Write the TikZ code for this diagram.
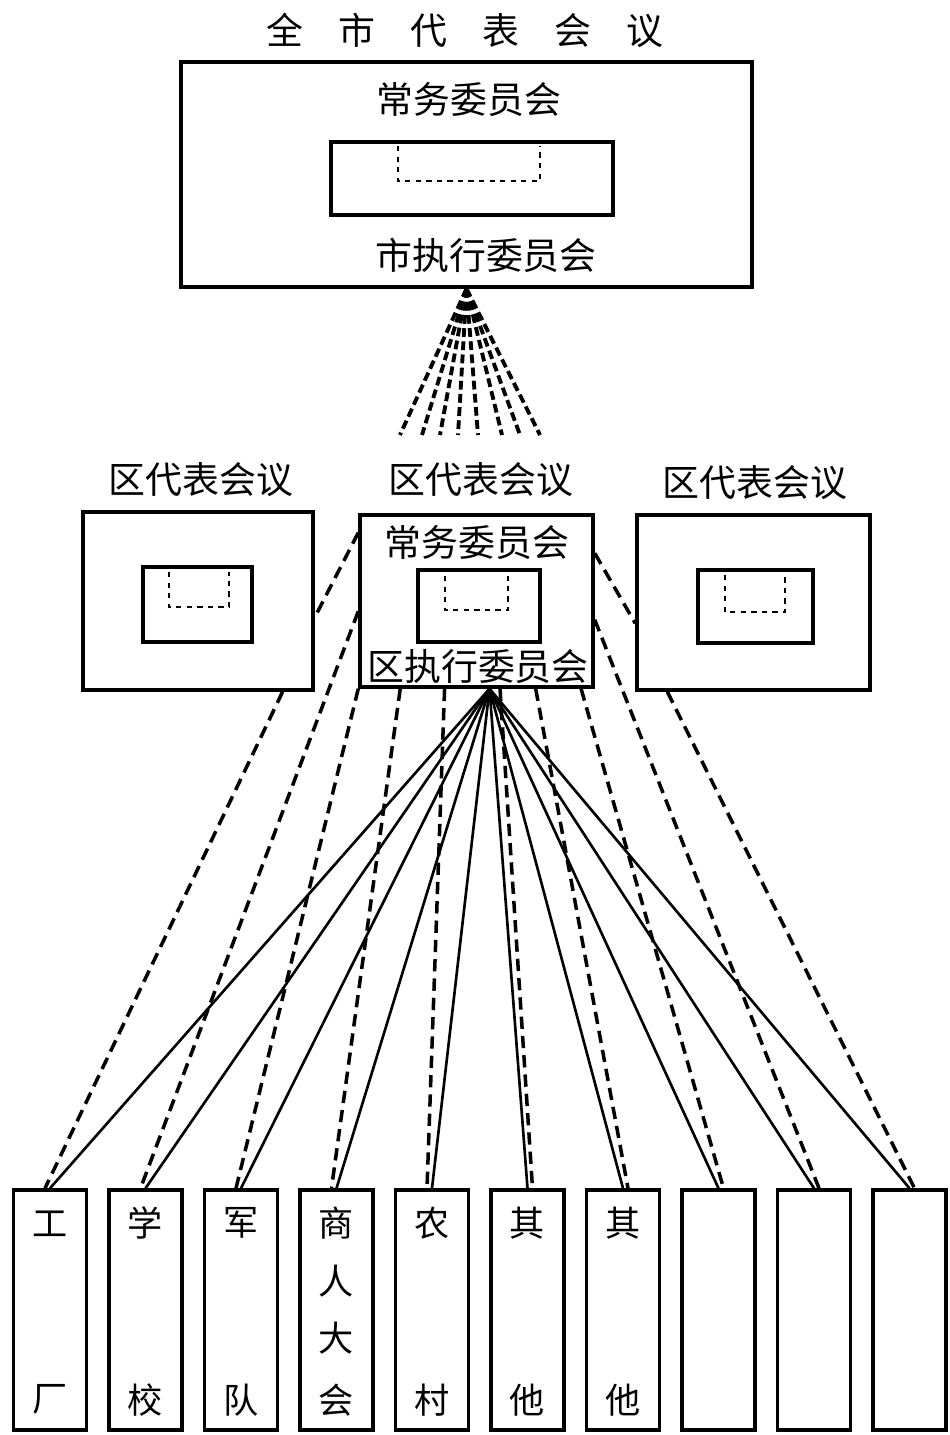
\documentclass[tikz,border=0pt]{standalone}
\usepackage{fontspec}
\setmainfont{Noto Sans CJK SC}
\usepackage{tikz}
\usetikzlibrary{calc}

\tikzset{
  box/.style={draw, line width=2pt, inner sep=0pt},
  han/.style={font=\fontsize{21}{21}\selectfont, inner sep=0pt},
  hansmall/.style={font=\fontsize{20}{20}\selectfont, inner sep=0pt},
  udash/.style={line width=1.6pt, dash pattern=on 3pt off 3pt},
  fanline/.style={line width=2.2pt, dash pattern=on 5pt off 2.5pt},
  link/.style={line width=1.5pt},
  dlink/.style={line width=2pt, dash pattern=on 7pt off 4pt},
}

\begin{document}
\begin{tikzpicture}[x=0.02cm, y=-0.02cm]
  \useasboundingbox (0,0) rectangle (949,1435);
  % city level
  \node[han] (title) at (465,30) {全\hspace{0.7cm}市\hspace{0.7cm}代\hspace{0.7cm}表\hspace{0.7cm}会\hspace{0.7cm}议};
  \node[box, minimum width=11.42cm, minimum height=4.5cm] (city) at (466.5,174.5) {};
  \node[box, minimum width=5.64cm, minimum height=1.46cm] (cityin) at (472,178.5) {};
  \draw[udash] (398,146) -- (398,181) -- (540,181) -- (540,146);
  \node[han] (cityst) at (469,100) {常务委员会};
  \node[han] (cityex) at (486,255) {市执行委员会};
  % fan down to the districts
  \foreach \x [count=\k] in {400,422,440,458,478,502,520,540} {
    \coordinate (f\k) at (\x,435);
    \draw[fanline] (city.south) -- (f\k);
  }
  % district level
  \node[han] (lname) at (201,480) {区代表会议};
  \node[han] (cname) at (481,480) {区代表会议};
  \node[han] (rname) at (755,483) {区代表会议};
  \node[box, minimum width=4.6cm, minimum height=3.56cm] (lbox) at (198,601) {};
  \node[box, minimum width=2.18cm, minimum height=1.5cm] (lin) at (197.5,604.5) {};
  \draw[udash] (169,572) -- (169,607) -- (229,607) -- (229,572);
  \node[box, minimum width=4.66cm, minimum height=3.44cm] (cbox) at (476.5,601) {};
  \node[box, minimum width=2.44cm, minimum height=1.44cm] (cin) at (479,606) {};
  \draw[udash] (445,576) -- (445,610) -- (508,610) -- (508,576);
  \node[han] (cst) at (477,543) {常务委员会};
  \node[han] (cex) at (478,667) {区执行委员会};
  \node[box, minimum width=4.66cm, minimum height=3.5cm] (rbox) at (753.5,602.5) {};
  \node[box, minimum width=2.3cm, minimum height=1.46cm] (rin) at (755.5,606.5) {};
  \draw[udash] (725,575) -- (725,612) -- (785,612) -- (785,575);
  \draw[dlink] (cbox.150) -- (lbox.-8);
  \draw[dlink] (cbox.22) -- (rbox.-170);
  % grass roots
  \foreach \i in {1,...,10} {
    \node[box, minimum width=1.46cm, minimum height=4.8cm] (b\i) at ({50+95.5*(\i-1)},1310) {};
  }
  \foreach \i/\ca/\cb in {1/工/厂, 2/学/校, 3/军/队, 4/商/会, 5/农/村, 6/其/他, 7/其/他} {
    \node[hansmall] (t\i) at ($(b\i.north)+(0,35)$) {\ca};
    \node[hansmall] (u\i) at ($(b\i.south)+(0,-32)$) {\cb};
  }
  \node[hansmall] (m1) at ($(b4.north)+(0,93)$) {人};
  \node[hansmall] (m2) at ($(b4.north)+(0,150)$) {大};
  % connectors
  \coordinate (apex) at ([xshift=0.26cm]cbox.south);
  \foreach \i in {1,...,10}
    \draw[link] (apex) -- (b\i.north);
  \foreach \i/\from/\sh in {1/lbox.-47/-0.1cm, 2/cbox.-175/-0.1cm, 3/cbox.south west/-0.1cm,
      4/cbox.-131/-0.1cm, 5/cbox.-110/-0.1cm, 6/cbox.-75/0.1cm, 7/cbox.-56/0.1cm,
      8/cbox.-40/0.1cm, 9/cbox.-9/0.1cm, 10/rbox.-134/0.1cm}
    \draw[dlink] (\from) -- ([xshift=\sh]b\i.north);
\end{tikzpicture}
\end{document}
